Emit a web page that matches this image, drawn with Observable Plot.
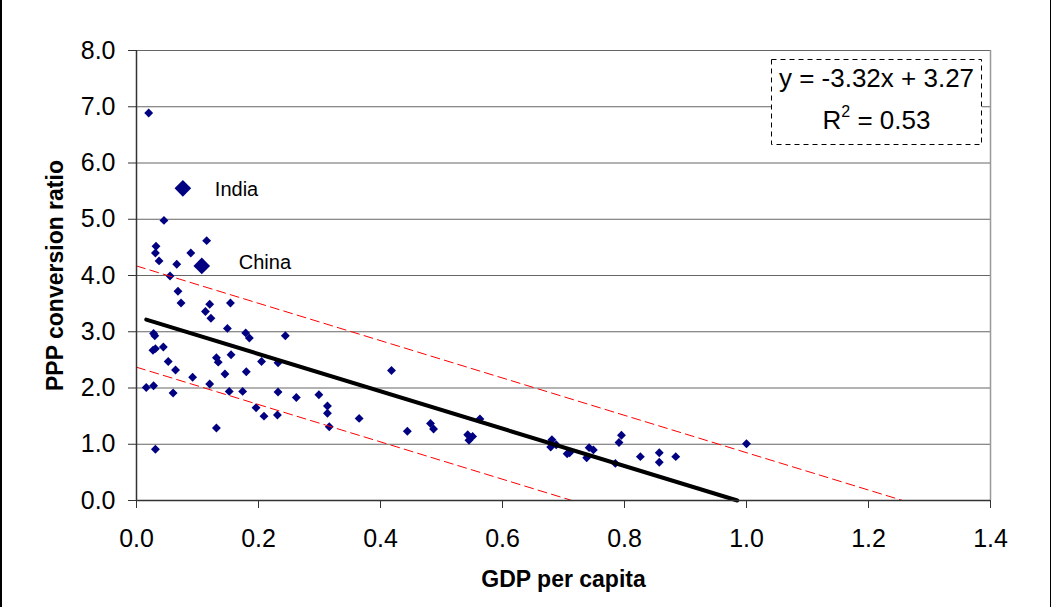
<!DOCTYPE html>
<html><head><meta charset="utf-8">
<script src="https://cdn.jsdelivr.net/npm/d3@7"></script>
<script src="https://cdn.jsdelivr.net/npm/@observablehq/plot@0.6"></script>
<style>
html,body{margin:0;padding:0;background:#fff;}
#wrap{position:relative;width:1051px;height:607px;overflow:hidden;font-family:"Liberation Sans",Arial,sans-serif;}
#wrap > svg{display:block;}
.edge{position:absolute;top:0;height:607px;background:#000;}
#eq{position:absolute;left:771px;top:59px;width:211px;height:86px;background:#fff;font-size:26px;color:#000;}
#eq svg{position:absolute;left:0;top:0;}
#eq .l{position:absolute;left:0;right:0;text-align:center;line-height:26px;white-space:nowrap;}
#eq sup{font-size:16px;position:relative;top:-3px;vertical-align:top;line-height:16px;}
</style>
</head><body>
<div id="wrap"></div>
<script>
// GDP per capita (relative) and PPP conversion ratio
const gdp = [0.020,0.045,0.032,0.031,0.037,0.066,0.089,0.115,0.055,0.068,
  0.073,0.120,0.154,0.113,0.122,0.149,0.179,0.185,0.244,0.028,
  0.030,0.027,0.031,0.044,0.052,0.064,0.092,0.131,0.134,0.155,
  0.145,0.180,0.205,0.232,0.016,0.028,0.060,0.120,0.152,0.174,
  0.232,0.262,0.196,0.209,0.231,0.131,0.031,0.299,0.313,0.313,
  0.316,0.365,0.418,0.444,0.482,0.487,0.543,0.551,0.545,0.563,
  0.681,0.679,0.688,0.706,0.710,0.742,0.749,0.738,0.785,0.791,
  0.795,0.826,0.857,0.857,0.884,1.000];
const ppp = [6.89,4.98,4.52,4.40,4.26,4.20,4.40,4.62,3.99,3.72,
  3.51,3.49,3.51,3.36,3.24,3.06,2.98,2.89,2.93,2.97,
  2.93,2.67,2.70,2.73,2.47,2.32,2.19,2.54,2.46,2.59,
  2.25,2.29,2.47,2.45,2.01,2.04,1.91,2.07,1.94,1.94,
  1.93,1.83,1.65,1.50,1.52,1.29,0.91,1.88,1.68,1.55,
  1.31,1.46,2.31,1.23,1.37,1.27,1.17,1.14,1.07,1.45,
  1.08,0.95,0.99,0.83,0.85,0.94,0.90,0.76,0.66,1.03,
  1.16,0.78,0.85,0.68,0.78,1.01];
const labelNames = ["India","China"];
const labelGdp = [0.076,0.107];
const labelPpp = [5.55,4.17];
const xTicks = [0,0.2,0.4,0.6,0.8,1.0,1.2,1.4];
const yTicks = [0,1,2,3,4,5,6,7,8];
const slope = -3.32, intercept = 3.27, rSquared = 0.53, band = 0.9;

const points = gdp.map((x,i)=>({x, y: ppp[i]}));
const labeled = labelNames.map((n,i)=>({name:n, x: labelGdp[i], y: labelPpp[i]}));
const xmin = d3.min(gdp);
const trend = [{x:xmin, y:intercept+slope*xmin},{x:-intercept/slope, y:0}];
const upper = [{x:0, y:intercept+band},{x:-(intercept+band)/slope, y:0}];
const lower = [{x:0, y:intercept-band},{x:-(intercept-band)/slope, y:0}];
const fmt = d3.format(".1f");
const font = "'Liberation Sans', Arial, sans-serif";

const chart = Plot.plot({
  width: 1051, height: 607,
  marginLeft: 136, marginRight: 61, marginTop: 50, marginBottom: 107,
  style: {fontFamily: font, background: "#fff", color: "#000", overflow: "visible"},
  x: {domain: [0, 1.4]},
  y: {domain: [0, 8]},
  marks: [
    Plot.gridY(yTicks.filter(d=>d>0), {stroke: "#666", strokeOpacity: 1, strokeWidth: 1}),
    Plot.ruleX([1.4], {stroke: "#999", strokeWidth: 1.5}),
    Plot.axisX(xTicks, {tickFormat: fmt, tickSize: 8, tickPadding: 21, fontSize: 25, label: null, stroke: "#333"}),
    Plot.axisY(yTicks, {tickFormat: fmt, tickSize: 8, tickPadding: 13, fontSize: 25, label: null, stroke: "#333"}),
    Plot.dot(points, {x: "x", y: "y", symbol: "diamond2", r: 4, fill: "#000080", stroke: null}),
    Plot.dot(labeled, {x: "x", y: "y", symbol: "diamond2", r: 7.5, fill: "#000080", stroke: null}),
    Plot.line(upper, {x: "x", y: "y", stroke: "#ff0000", strokeWidth: 1, strokeDasharray: "9,5"}),
    Plot.line(lower, {x: "x", y: "y", stroke: "#ff0000", strokeWidth: 1, strokeDasharray: "9,5"}),
    Plot.line(trend, {x: "x", y: "y", stroke: "#000", strokeWidth: 4}),
    Plot.ruleY([0], {stroke: "#333", strokeWidth: 1.5}),
    Plot.ruleX([0], {stroke: "#333", strokeWidth: 1.5}),
    Plot.text(labeled.filter(d=>d.name==="India"), {x: "x", y: "y", text: "name", dx: 32, dy: 1, textAnchor: "start", fontSize: 20, fill: "#000"}),
    Plot.text(labeled.filter(d=>d.name==="China"), {x: "x", y: "y", text: "name", dx: 37, dy: -3, textAnchor: "start", fontSize: 20, fill: "#000"}),
    Plot.text(["GDP per capita"], {frameAnchor: "bottom", dy: 79, fontSize: 23, fontWeight: "bold", textAnchor: "middle", lineAnchor: "middle", fill: "#000"}),
    Plot.text(["PPP conversion ratio"], {frameAnchor: "left", dx: -81, rotate: -90, fontSize: 23, fontWeight: "bold", textAnchor: "middle", lineAnchor: "middle", fill: "#000"})
  ]
});
const wrap = document.getElementById("wrap");
wrap.appendChild(chart);
d3.select(chart).selectAll("[aria-label='x-axis tick label'] text, [aria-label='y-axis tick label'] text").attr("fill", "#000");

const l = document.createElement("div"); l.className = "edge"; l.style.left = "0px"; l.style.width = "2px"; wrap.appendChild(l);
const r = document.createElement("div"); r.className = "edge"; r.style.left = "1050px"; r.style.width = "1px"; wrap.appendChild(r);

const eq = document.createElement("div");
eq.id = "eq";
const b = intercept >= 0 ? " + " + intercept.toFixed(2) : " - " + Math.abs(intercept).toFixed(2);
eq.innerHTML = `<svg width="211" height="86"><rect x="0.5" y="0.5" width="210" height="85" fill="#fff" stroke="#000" stroke-width="1" stroke-dasharray="5,4"/></svg>` +
  `<div class="l" style="top:6px">y = ${slope.toFixed(2)}x${b}</div>` +
  `<div class="l" style="top:48px">R<sup>2</sup> = ${rSquared.toFixed(2)}</div>`;
wrap.appendChild(eq);
</script>
</body></html>
